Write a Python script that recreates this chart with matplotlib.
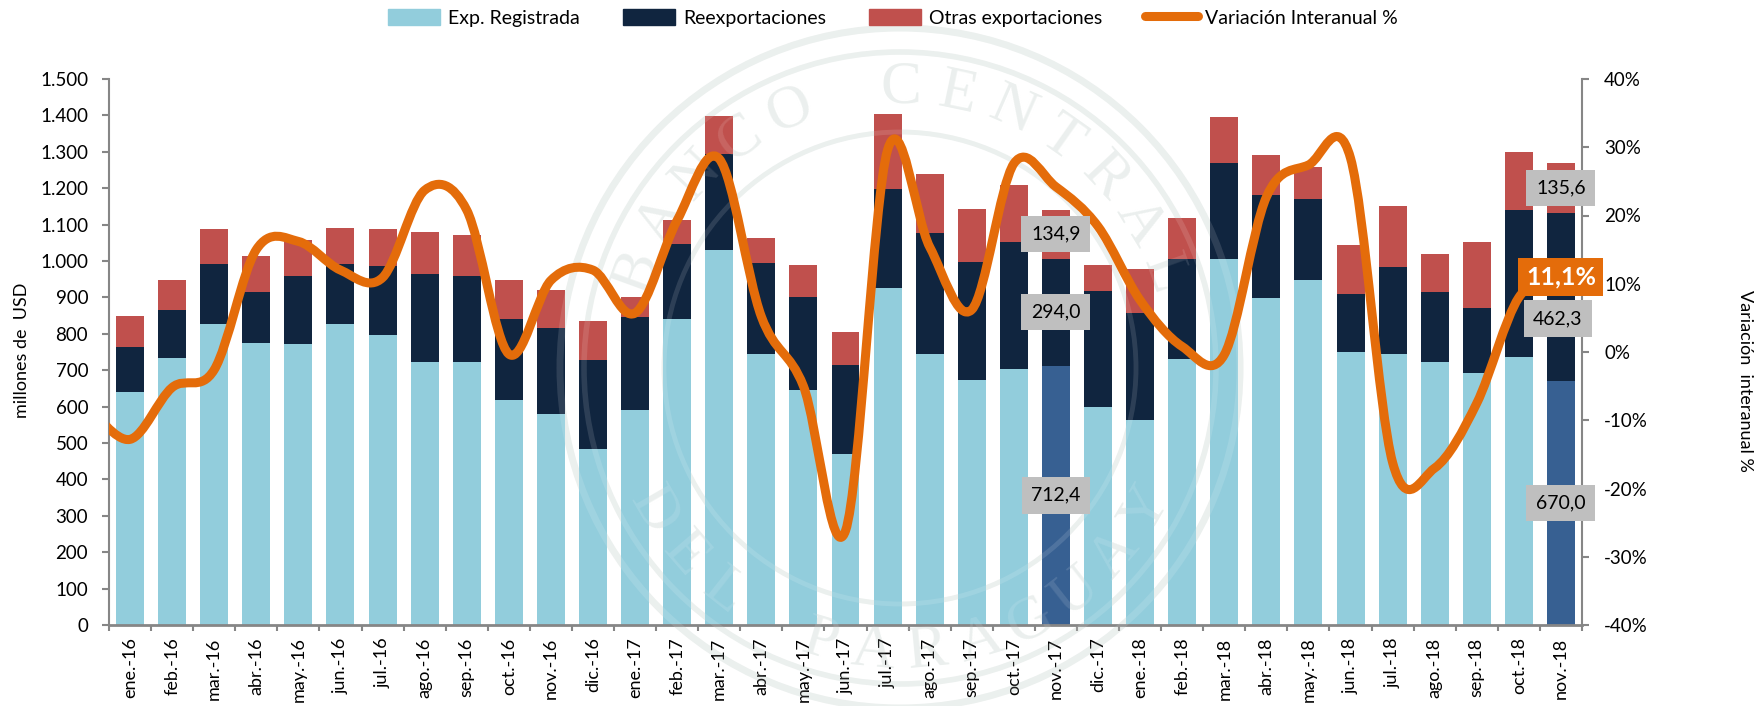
import matplotlib
matplotlib.use("Agg")
import matplotlib.pyplot as plt
import numpy as np
from matplotlib.lines import Line2D
from matplotlib.patches import Circle, Patch, PathPatch
from matplotlib.path import Path

plt.rcParams['font.family'] = ['Lato', 'DejaVu Sans']

months = ['ene.-16', 'feb.-16', 'mar.-16', 'abr.-16', 'may.-16', 'jun.-16', 'jul.-16', 'ago.-16', 'sep.-16',
          'oct.-16', 'nov.-16', 'dic.-16', 'ene.-17', 'feb.-17', 'mar.-17', 'abr.-17', 'may.-17', 'jun.-17',
          'jul.-17', 'ago.-17', 'sep.-17', 'oct.-17', 'nov.-17', 'dic.-17', 'ene.-18', 'feb.-18', 'mar.-18',
          'abr.-18', 'may.-18', 'jun.-18', 'jul.-18', 'ago.-18', 'sep.-18', 'oct.-18', 'nov.-18']

registrada = [640, 733, 827, 776, 772, 828, 797, 722, 722, 618, 580, 484, 591, 840, 1030, 745, 645, 469,
              927, 745, 672, 703, 712.4, 599, 562, 731, 1006, 897, 949, 750, 745, 723, 692, 736, 670.0]
reexport = [123, 132, 166, 140, 186, 164, 188, 241, 238, 224, 235, 244, 255, 207, 265, 250, 257, 245,
            270, 333, 325, 348, 294.0, 319, 296, 275, 262, 285, 221, 160, 239, 193, 179, 405, 462.3]
otras = [87, 82, 95, 99, 100, 98, 102, 118, 112, 107, 104, 107, 54, 67, 102, 68, 88, 92,
         208, 161, 145, 158, 134.9, 72, 120, 111, 127, 108, 89, 134, 168, 103, 180, 159, 135.6]

# value before ene.-16, the line comes in from the left of the axis
variacion_previa = -8.0
variacion = [-12.8, -5.2, -2.6, 15.0, 16.2, 12.0, 10.9, 23.7, 20.8, -0.3, 10.5, 12.0, 5.7, 19.3, 28.3, 5.2,
             -5.0, -26.2, 29.6, 15.4, 6.2, 27.6, 24.2, 18.4, 7.6, 0.8, -0.4, 22.7, 27.4, 28.4, -16.2, -17.0,
             -7.5, 8.0, 11.1]

left_ticks = [0, 100, 200, 300, 400, 500, 600, 700, 800, 900, 1000, 1100, 1200, 1300, 1400, 1500]
left_labels = ['0', '100', '200', '300', '400', '500', '600', '700', '800', '900', '1.000', '1.100', '1.200',
               '1.300', '1.400', '1.500']
right_ticks = [-40, -30, -20, -10, 0, 10, 20, 30, 40]
right_labels = ['-40%', '-30%', '-20%', '-10%', '0%', '10%', '20%', '30%', '40%']

# highlighted months, nov.-17 and nov.-18
highlight = [22, 34]

LIGHT = '#92CDDC'
NAVY = '#10253F'
RED = '#C0504D'
DARK = '#376092'
ORANGE = '#E46C0A'
GREY = '#868686'
BOX = '#BFBFBF'
MARK = '#E9EEEC'
W, H = 1760, 706


def smooth_path(xs, ys):
    # same kind of smoothing as the excel line
    pts = np.column_stack([xs, ys])
    verts = [pts[0]]
    codes = [Path.MOVETO]
    for i in range(len(pts) - 1):
        p0 = pts[max(i - 1, 0)]
        p1 = pts[i]
        p2 = pts[i + 1]
        p3 = pts[min(i + 2, len(pts) - 1)]
        verts += [p1 + (p2 - p0) / 6, p2 - (p3 - p1) / 6, p2]
        codes += [Path.CURVE4, Path.CURVE4, Path.CURVE4]
    return Path(verts, codes)


def draw_seal(axis, color, zorder, alpha=1.0):
    # the bank's seal, in figure pixels
    cx, cy = 900, 368
    for r, lw in [(340, 5), (316, 4), (236, 3.5)]:
        axis.add_patch(Circle((cx, cy), r, fill=False, ec=color, lw=lw, alpha=alpha, zorder=zorder))
    for word, start, step, r, flip in [('BANCO CENTRAL', -70, 11.7, 280, 0), ('DEL PARAGUAY', 240, -10.9, 285, 180)]:
        for n, letter in enumerate(word):
            ang = np.radians(start + n * step)
            axis.text(cx + r * np.sin(ang), cy - r * np.cos(ang), letter, family='Liberation Serif',
                      fontsize=44, color=color, alpha=alpha, ha='center', va='center', zorder=zorder,
                      rotation=-np.degrees(ang) + flip)


fig = plt.figure(figsize=(W / 100, H / 100), dpi=100, facecolor='white')

back = fig.add_axes([0, 0, 1, 1], zorder=0)
back.set_xlim(0, W)
back.set_ylim(H, 0)
back.axis('off')
draw_seal(back, MARK, 1)

ax = fig.add_axes([109 / W, 1 - 625 / H, (1582 - 109) / W, (625 - 79) / H], zorder=1)
ax.patch.set_visible(False)

x = np.arange(len(months))
reg = np.array(registrada)
ree = np.array(reexport)
otr = np.array(otras)
light_colors = [DARK if i in highlight else LIGHT for i in x]
ax.bar(x, reg, 0.665, color=light_colors)
ax.bar(x, ree, 0.665, bottom=reg, color=NAVY)
ax.bar(x, otr, 0.665, bottom=reg + ree, color=RED)

ax.set_xlim(-0.5, len(months) - 0.5)
ax.set_ylim(0, 1500)
ax.set_yticks(left_ticks)
ax.set_yticklabels(left_labels, fontsize=13.5)
ax.set_xticks(x)
ax.set_xticklabels(months, rotation=90, fontsize=13)
ax.set_xticks(np.arange(len(months) + 1) - 0.5, minor=True)
ax.tick_params(axis='x', which='major', length=0, pad=9)
ax.tick_params(axis='x', which='minor', length=4, width=1.5, color=GREY)
ax.tick_params(axis='y', length=5, width=1.5, color=GREY, pad=10)
for side in ['top', 'right']:
    ax.spines[side].set_visible(False)
ax.spines['left'].set_color(GREY)
ax.spines['left'].set_linewidth(1.5)
ax.spines['bottom'].set_color(GREY)
ax.spines['bottom'].set_linewidth(2)

front = fig.add_axes([0, 0, 1, 1], zorder=2)
front.patch.set_visible(False)
front.set_xlim(0, W)
front.set_ylim(H, 0)
front.axis('off')
draw_seal(front, 'white', 1, alpha=0.12)

ax2 = fig.add_axes(ax.get_position(), zorder=3)
ax2.patch.set_visible(False)
ax2.set_xlim(ax.get_xlim())
ax2.set_ylim(-40, 40)
ax2.set_xticks([])
ax2.yaxis.tick_right()
ax2.set_yticks(right_ticks)
ax2.set_yticklabels(right_labels, fontsize=13.5)
ax2.tick_params(axis='y', length=5, width=1.5, color=GREY, pad=11)
for side in ['top', 'left', 'bottom']:
    ax2.spines[side].set_visible(False)
ax2.spines['right'].set_color(GREY)
ax2.spines['right'].set_linewidth(1.5)

line_x = np.arange(-1, len(months))
line_y = [variacion_previa] + variacion
ax2.add_patch(PathPatch(smooth_path(line_x, line_y), fill=False, ec=ORANGE, lw=6.5, capstyle='round',
                        joinstyle='round'))


def value_box(i, y, val, dx=0.0):
    # on ax2 so that the box covers the right spine, as in the original
    ax2.text(i + dx, y, val, transform=ax.transData, fontsize=14, color='black', ha='center', va='center',
             zorder=6, bbox=dict(boxstyle='square,pad=0.5', fc=BOX, ec='none'))


for i in highlight:
    # labels are written in spanish format with a comma
    value_box(i, reg[i] / 2, f'{reg[i]:.1f}'.replace('.', ','))
    value_box(i, reg[i] + ree[i] + otr[i] / 2, f'{otr[i]:.1f}'.replace('.', ','))
value_box(highlight[0], reg[highlight[0]] + ree[highlight[0]] / 2, f'{ree[highlight[0]]:.1f}'.replace('.', ','))
# the last one was pushed down to leave room for the orange label
value_box(highlight[1] - 0.07, 842, f'{ree[highlight[1]]:.1f}'.replace('.', ','))

ax2.text(x[-1], variacion[-1] - 0.1, '11,1%', fontsize=18, fontweight='bold', color='white', ha='center',
         va='center', zorder=7, bbox=dict(boxstyle='square,pad=0.3', fc=ORANGE, ec='none'))

fig.text(22 / W, 1 - 350 / H, 'millones de  USD', rotation=90, fontsize=13, ha='center', va='center')
fig.text(1745 / W, 1 - 381 / H, 'Variación  interanual %', rotation=270, fontsize=13, ha='center', va='center')

handles = [Patch(color=LIGHT), Patch(color=NAVY), Patch(color=RED),
           Line2D([0], [0], color=ORANGE, lw=6.5, solid_capstyle='round')]
names = ['Exp. Registrada', 'Reexportaciones', 'Otras exportaciones', 'Variación Interanual %']
fig.legend(handles, names, ncol=4, loc='center', bbox_to_anchor=(893 / W, 1 - 18 / H), frameon=False, fontsize=14,
           handlelength=2.7, handleheight=0.85, handletextpad=0.4, columnspacing=2.2, borderpad=0)

fig.savefig('out.png', dpi=100)
